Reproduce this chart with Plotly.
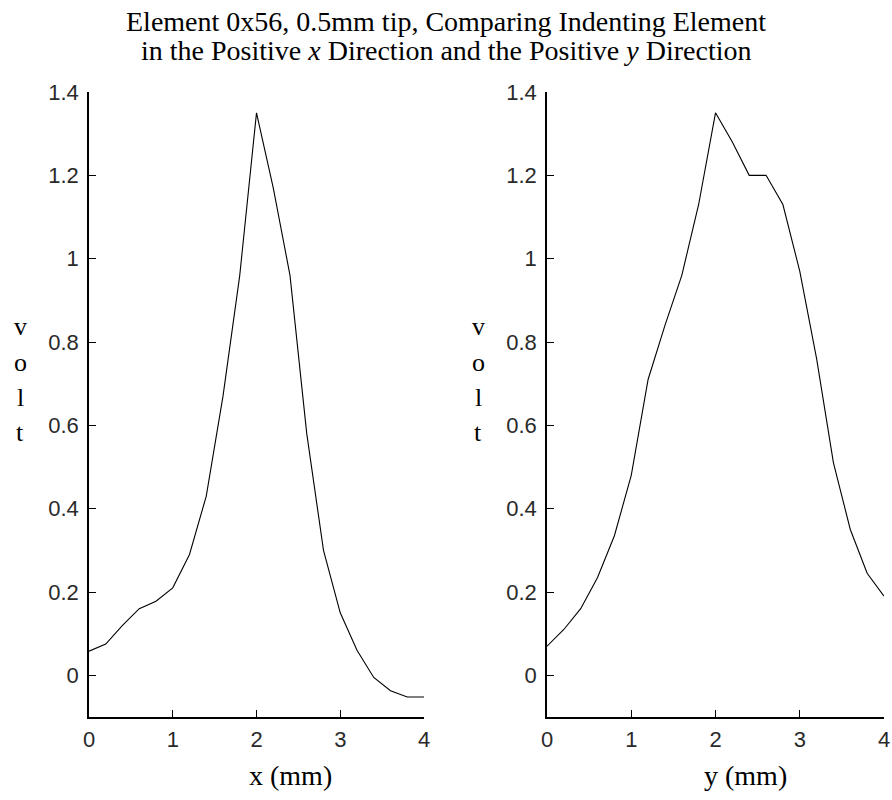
import plotly.graph_objects as go

# Data
pos_mm = [0.0, 0.2, 0.4, 0.6, 0.8, 1.0, 1.2, 1.4, 1.6, 1.8, 2.0,
          2.2, 2.4, 2.6, 2.8, 3.0, 3.2, 3.4, 3.6, 3.8, 4.0]
volt_x = [0.058, 0.075, 0.12, 0.16, 0.178, 0.21, 0.29, 0.43, 0.67, 0.96, 1.35,
          1.17, 0.96, 0.58, 0.30, 0.15, 0.06, -0.005, -0.037, -0.052, -0.052]
volt_y = [0.07, 0.11, 0.16, 0.235, 0.335, 0.48, 0.71, 0.84, 0.96, 1.13, 1.35,
          1.28, 1.20, 1.20, 1.13, 0.97, 0.76, 0.51, 0.35, 0.245, 0.19]
x_ticks = [0, 1, 2, 3, 4]
y_ticks = [0, 0.2, 0.4, 0.6, 0.8, 1.0, 1.2, 1.4]
y_tick_text = ["0", "0.2", "0.4", "0.6", "0.8", "1", "1.2", "1.4"]

W, H = 892, 800

def px(v):
    return v / W

def py(v):
    return 1 - v / H

fig = go.Figure()
fig.add_trace(go.Scatter(x=pos_mm, y=volt_x, mode="lines",
                         line=dict(color="black", width=1.1),
                         xaxis="x", yaxis="y", showlegend=False))
fig.add_trace(go.Scatter(x=pos_mm, y=volt_y, mode="lines",
                         line=dict(color="black", width=1.1),
                         xaxis="x2", yaxis="y2", showlegend=False))

tickfont = dict(family="Liberation Sans, Arial", size=22, color="#2a2a2a")
ydom = [py(717), py(92)]

def xax(dom, anchor):
    return dict(domain=dom, anchor=anchor, range=[0, 4], tickvals=x_ticks,
                ticks="inside", ticklen=7, tickcolor="black", tickwidth=1,
                showline=True, linecolor="black", linewidth=1.5,
                showgrid=False, zeroline=False, tickfont=tickfont,
                ticklabelstandoff=2,
                automargin=False, fixedrange=True)

def yax(anchor):
    return dict(domain=ydom, anchor=anchor, range=[-0.1, 1.4],
                tickvals=y_ticks, ticktext=y_tick_text,
                ticks="inside", ticklen=7, tickcolor="black", tickwidth=1,
                showline=True, linecolor="black", linewidth=1.5,
                showgrid=False, zeroline=False, tickfont=tickfont,
                ticklabelstandoff=4,
                automargin=False, fixedrange=True)

fig.update_layout(
    width=W, height=H,
    margin=dict(l=0, r=0, t=0, b=0),
    paper_bgcolor="white", plot_bgcolor="white",
    xaxis=xax([px(89), px(424)], "y"),
    yaxis=yax("x"),
    xaxis2=xax([px(547), px(884)], "y2"),
    yaxis2=yax("x2"),
)

serif = dict(family="Liberation Serif, Times New Roman", size=28, color="black")
annots = [
    dict(text="Element 0x56, 0.5mm tip, Comparing Indenting Element",
         x=px(446), y=py(22), xanchor="center", yanchor="middle"),
    dict(text="in the Positive <i>x</i> Direction and the Positive <i>y</i> Direction",
         x=px(446), y=py(50), xanchor="center", yanchor="middle"),
    dict(text="x (mm)", x=px(290), y=py(775), xanchor="center", yanchor="middle"),
    dict(text="y (mm)", x=px(745), y=py(775), xanchor="center", yanchor="middle"),
]
for cx in (20, 478):
    for i, ch in enumerate("volt"):
        annots.append(dict(text=ch, x=px(cx), y=py(327 + 35 * i),
                           xanchor="center", yanchor="middle",
                           font=dict(family="Liberation Serif, Times New Roman",
                                     size=26, color="black")))
for a in annots:
    a.update(xref="paper", yref="paper", showarrow=False)
    a.setdefault("font", serif)
fig.update_layout(annotations=annots)

fig.write_html(
    "out.html",
    config={"displayModeBar": False},
    post_script="document.body.style.margin='0';"
                "document.body.style.overflow='hidden';",
)
